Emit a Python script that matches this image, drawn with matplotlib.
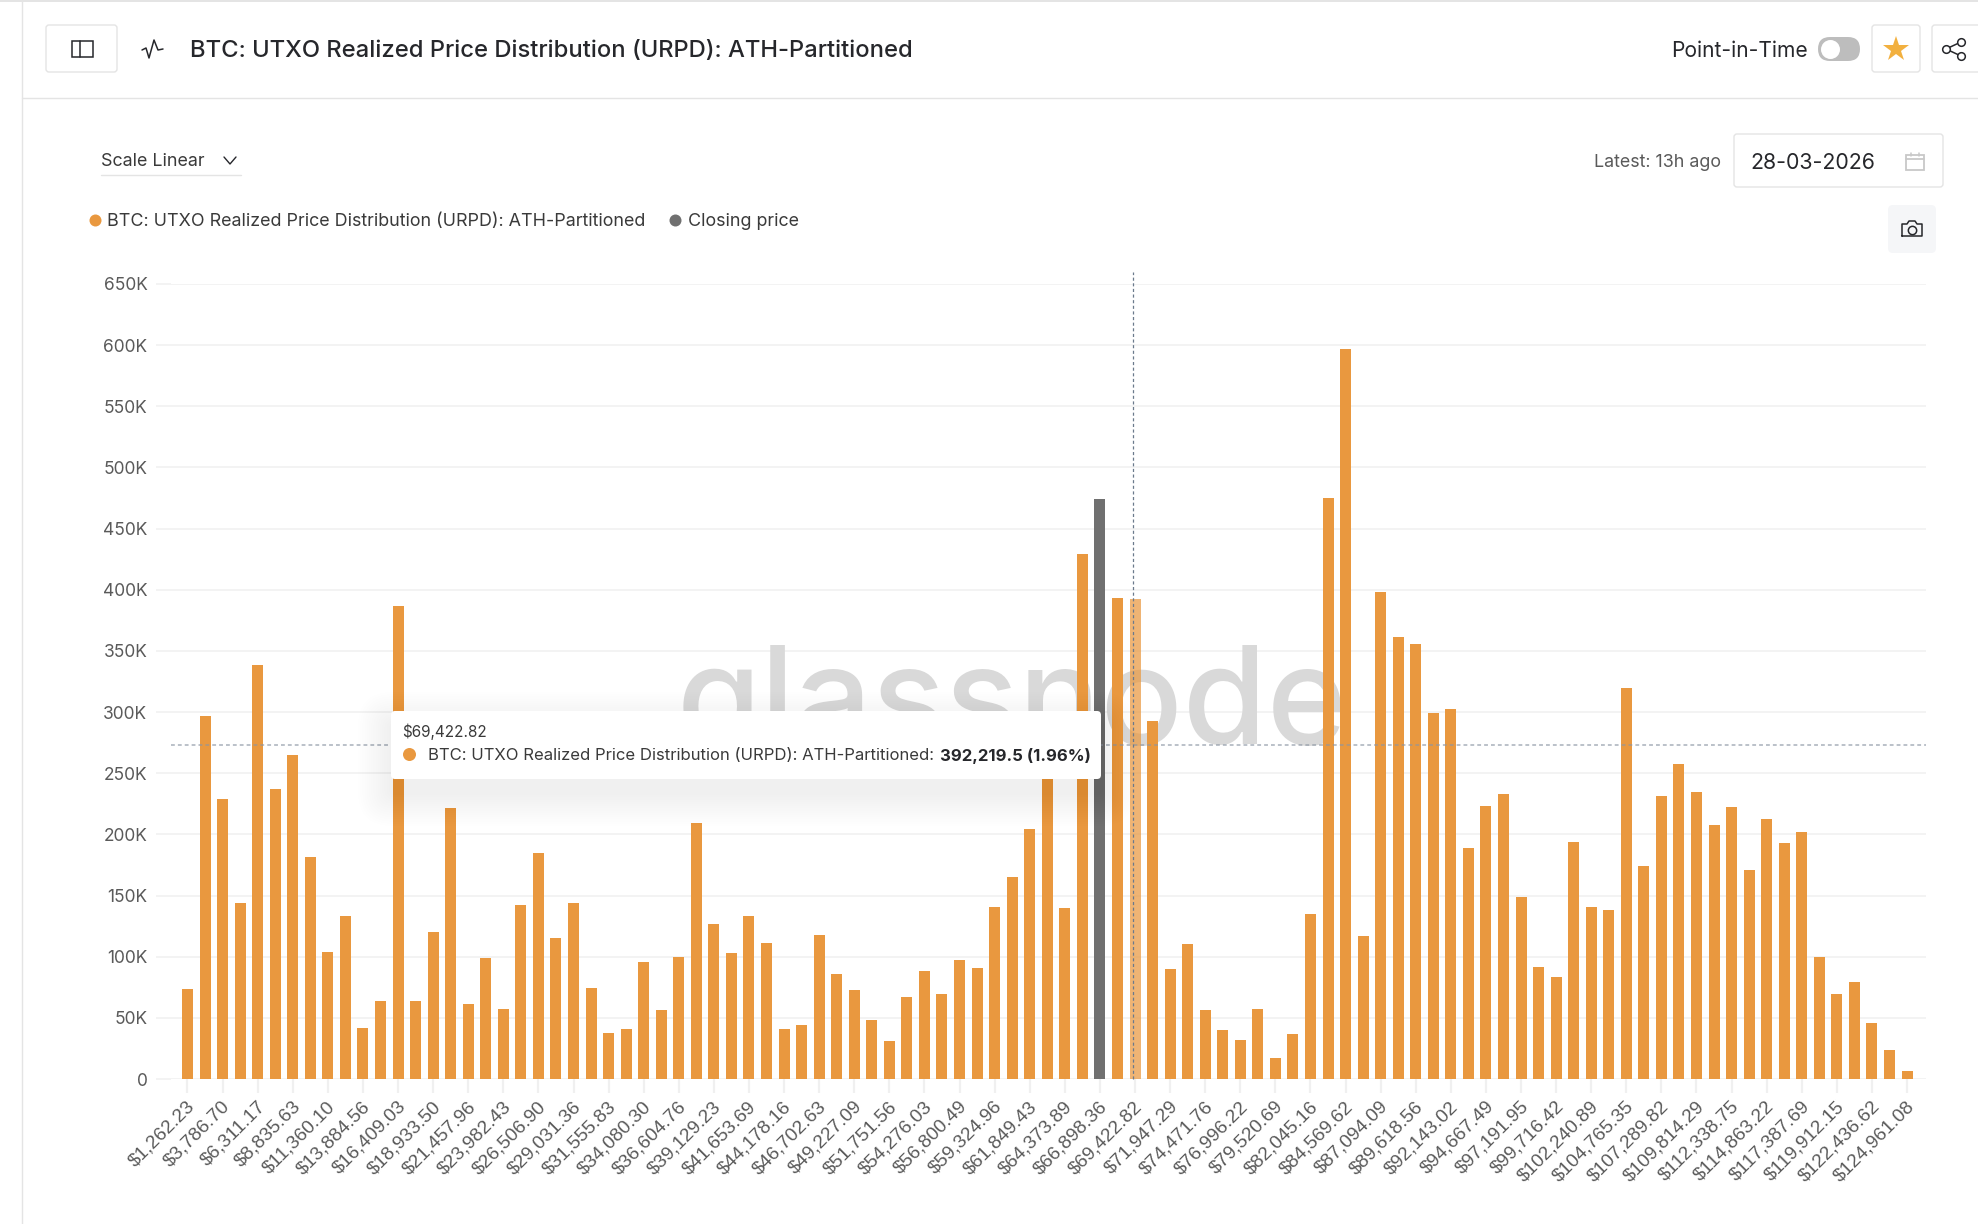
import matplotlib
matplotlib.use("Agg")
import matplotlib.pyplot as plt
from matplotlib.patches import FancyBboxPatch, Rectangle
from matplotlib.ticker import FuncFormatter
from matplotlib.transforms import ScaledTranslation

# ==========================================
# DATA
# ==========================================
urpd_values = [
    73600, 296800, 229000, 144000, 338500, 237000, 265000, 181500, 104000, 133000,
    41700, 63800, 386700, 63800, 120000, 221500, 61300, 99000, 57200, 142000,
    184800, 115000, 144000, 74400, 37600, 40900, 95600, 56400, 99700, 209300,
    126700, 103000, 133300, 111200, 40900, 44100, 117700, 85800, 72800, 48200,
    31000, 67000, 88300, 69500, 97300, 90700, 140600, 165200, 204500, 255000,
    139800, 429400, 474500, 393500, 392219.5, 292700, 89900, 110000, 56300, 40000,
    31900, 57300, 17000, 36600, 135000, 475000, 597000, 117000, 398200, 361600,
    355800, 299500, 302600, 189000, 223200, 233000, 148800, 91600, 83400, 193700,
    140600, 138200, 319600, 174100, 231400, 257500, 234600, 207600, 222400, 170900,
    212600, 192900, 201900, 99700, 69500, 79300, 45800, 23700, 6500,
]
price_labels = [
    "$1,262.23", "$3,786.70", "$6,311.17", "$8,835.63", "$11,360.10", "$13,884.56",
    "$16,409.03", "$18,933.50", "$21,457.96", "$23,982.43", "$26,506.90", "$29,031.36",
    "$31,555.83", "$34,080.30", "$36,604.76", "$39,129.23", "$41,653.69", "$44,178.16",
    "$46,702.63", "$49,227.09", "$51,751.56", "$54,276.03", "$56,800.49", "$59,324.96",
    "$61,849.43", "$64,373.89", "$66,898.36", "$69,422.82", "$71,947.29", "$74,471.76",
    "$76,996.22", "$79,520.69", "$82,045.16", "$84,569.62", "$87,094.09", "$89,618.56",
    "$92,143.02", "$94,667.49", "$97,191.95", "$99,716.42", "$102,240.89", "$104,765.35",
    "$107,289.82", "$109,814.29", "$112,338.75", "$114,863.22", "$117,387.69",
    "$119,912.15", "$122,436.62", "$124,961.08",
]
y_ticks = list(range(0, 650001, 50000))
closing_index = 52
hover_index = 54
hover_y = 273300

TITLE = "BTC: UTXO Realized Price Distribution (URPD): ATH-Partitioned"

# ==========================================
# STYLE
# ==========================================
ORANGE = "#E9983F"
GRAY_BAR = "#707070"
GRID = "#F0F0F0"
LINE = "#E4E4E4"
TEXT = "#26272B"
MUTED = "#5A5A5A"
UI_FONT = "Inter"

W, H = 1978, 1224
fig = plt.figure(figsize=(W / 100, H / 100), dpi=100, facecolor="white")

# chart axes, placed on the pixel positions of the reference
ax = fig.add_axes([171 / W, 1 - 1079 / H, (1926 - 171) / W, 795 / H])
ax.set_zorder(1)
ax.patch.set_alpha(0)

bar_colors = [ORANGE] * len(urpd_values)
bar_colors[closing_index] = GRAY_BAR
positions = list(range(len(urpd_values)))
bars = ax.bar(positions, urpd_values, width=0.627, color=bar_colors, zorder=3)
bars[hover_index].set_alpha(0.72)

ax.set_xlim(-0.94, 99.08)
ax.set_ylim(0, 650000)
ax.set_yticks(y_ticks)
ax.yaxis.set_major_formatter(FuncFormatter(lambda v, _: "0" if v == 0 else f"{int(v / 1000)}K"))
ax.grid(axis="y", color=GRID, linewidth=1.1, zorder=0)
ax.set_axisbelow(True)
for side in ["top", "right", "left", "bottom"]:
    ax.spines[side].set_visible(False)
ax.tick_params(axis="y", length=11, width=1.1, color=GRID, pad=6, labelsize=12.5, labelcolor=MUTED)
for lab in ax.get_yticklabels():
    lab.set_family(UI_FONT)

ax.set_xticks(positions[::2])
ax.set_xticklabels(price_labels, rotation=45, ha="right", va="center", rotation_mode="anchor",
                   family="Liberation Sans", fontsize=13.8, color=MUTED)
ax.tick_params(axis="x", length=10, width=1.6, color=GRID, pad=8)
# nudge the rotated labels to the right, the anchor alone leaves them short of the tick
nudge = ScaledTranslation(5 / 100, 0, fig.dpi_scale_trans)
for lab in ax.get_xticklabels():
    lab.set_transform(lab.get_transform() + nudge)

# watermark sits between the grid and the bars
ax.text(0.479, 0.421, "glassnode", transform=ax.transAxes, ha="center", va="baseline",
        family=UI_FONT, fontweight="medium", fontsize=98, color="#D9D9D9", zorder=1)

# crosshair
ax.axhline(hover_y, color="#8C96A3", lw=1.1, ls=(0, (2.5, 2)), alpha=0.75, zorder=4)
ax.plot([hover_index - 0.14] * 2, [0, 660000], color="#6B7A8C", lw=0.9, ls=(0, (2.5, 2)),
        clip_on=False, zorder=4)

# ==========================================
# PAGE CHROME (pixel coordinates)
# ==========================================
ui = fig.add_axes([0, 0, 1, 1])
ui.set_zorder(2)
ui.set_xlim(0, W)
ui.set_ylim(H, 0)
ui.axis("off")
ui.patch.set_alpha(0)


def box(x0, y0, x1, y1, face="white", edge=LINE, lw=1.0, r=3, alpha=1.0, z=2):
    p = FancyBboxPatch((x0, y0), x1 - x0, y1 - y0, boxstyle=f"round,pad=0,rounding_size={r}",
                       facecolor=face, edgecolor=edge, linewidth=lw, alpha=alpha, zorder=z)
    ui.add_patch(p)


def label(x, y, s, size=13, color=TEXT, ha="left", weight="normal", z=5):
    return ui.text(x, y, s, fontsize=size, color=color, ha=ha, va="center_baseline",
                   family=UI_FONT, fontweight=weight, zorder=z)


def dot(x, y, color, size=12, z=5):
    ui.plot([x], [y], "o", color=color, ms=size * 0.72, mew=0, zorder=z)


def stroke(xs, ys, color=TEXT, lw=1.2, z=5):
    ui.plot(xs, ys, color=color, lw=lw, solid_capstyle="round", solid_joinstyle="round", zorder=z)


# frame lines
stroke([0, W], [0.5, 0.5], LINE, 1.4)
stroke([22, 22], [0, H], LINE, 1.0)
stroke([22, W], [97.5, 97.5], LINE, 1.0)

# sidebar button and pulse icon
box(46, 25, 117, 72)
ui.add_patch(Rectangle((72, 41), 21, 16, fill=False, edgecolor=TEXT, lw=1.1, zorder=5))
stroke([80, 80], [41, 57], TEXT, 1.1)
stroke([142, 146, 149, 154, 158, 163], [50, 48, 58, 40, 50, 49], TEXT, 1.1)
label(189.5, 48, TITLE, size=17.15, weight="medium")

# right side of the header
label(1671, 49, "Point-in-Time", size=15.1)
box(1818, 37, 1860, 61, face="#BDBDBD", edge="none", r=12)
dot(1830, 49, "white", size=19)
box(1872, 25, 1920, 72)
ui.plot([1896], [49], "*", color="#F2B03F", ms=19, mew=0, zorder=5)
box(1932, 25, 1990, 72)
stroke([1961, 1946, 1961], [42, 49, 56], TEXT, 1.1)
for cx, cy in [(1961, 42), (1946, 49), (1961, 56)]:
    ui.plot([cx], [cy], "o", mfc="white", mec=TEXT, mew=1.1, ms=5.5, zorder=6)

# scale selector
label(101, 160, "Scale Linear", size=12.9, color="#3A3A3A")
stroke([224, 230, 236], [157, 164, 157], TEXT, 1.0)
stroke([101, 241], [175, 175], LINE, 1.0)

# legend
dot(95, 220, ORANGE, size=12)
label(107, 220, TITLE, size=12.9, color="#3A3A3A")
dot(675, 220, GRAY_BAR, size=12)
label(687.5, 220, "Closing price", size=12.9, color="#3A3A3A")

# date picker and camera
label(1594, 160.5, "Latest: 13h ago", size=12.9, color=MUTED)
box(1734, 134, 1943, 187)
label(1750, 161, "28-03-2026", size=15.4)
ui.add_patch(Rectangle((1906, 155), 18, 15, fill=False, edgecolor="#C8C8C8", lw=1.3, zorder=5))
stroke([1906, 1924], [159, 159], "#C8C8C8", 1.3)
stroke([1911, 1911], [153, 156], "#C8C8C8", 1.1)
stroke([1919, 1919], [153, 156], "#C8C8C8", 1.1)
box(1888, 205, 1936, 253, face="#F5F6F8", edge="none", r=5)
stroke([1902, 1902, 1907, 1909, 1915, 1917, 1922, 1922, 1902],
       [236, 224, 224, 221, 221, 224, 224, 236, 236], TEXT, 1.1)
ui.plot([1912], [229.5], "o", mfc="none", mec=TEXT, mew=1.1, ms=6, zorder=5)

# tooltip, soft shadow first
for k in range(1, 16):
    box(391 - k * 2.2, 711 + 14 - k * 2.2, 1101 + k * 2.2, 779 + 14 + k * 2.2,
        face="black", edge="none", r=4 + k * 2, alpha=0.005, z=3)
box(391, 711, 1101, 779, face="white", edge="none", r=4, z=4)
label(402, 730, price_labels[hover_index // 2], size=11, color="#3A3A3A")
dot(409, 754, ORANGE, size=13)
label(428, 754, f"{TITLE}:", size=12.0, color="#3A3A3A")
label(939.5, 754, "392,219.5 (1.96%)", size=12.0, weight="bold")

plt.savefig("out.png", dpi=100)
plt.close(fig)
